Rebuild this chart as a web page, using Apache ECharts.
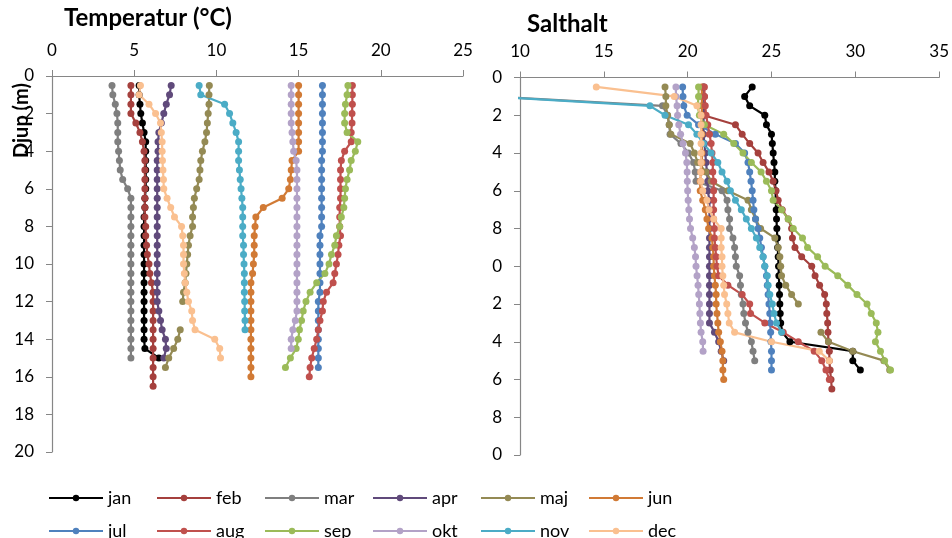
<!DOCTYPE html>
<html>
<head>
<meta charset="utf-8">
<script src="https://cdn.jsdelivr.net/npm/echarts@6/dist/echarts.min.js"></script>
<style>
  html, body { margin: 0; padding: 0; background: #fff; }
  #main { width: 952px; height: 538px; }
</style>
</head>
<body>
<div id="main"></div>
<script>
    // djup i meter, varje 0.5 m
    var depths = [0.5,1,1.5,2,2.5,3,3.5,4,4.5,5,5.5,6,6.5,7,7.5,8,8.5,9,9.5,10,10.5,11,11.5,12,12.5,13,13.5,14,14.5,15,15.5,16,16.5];
    var months = ['jan','feb','mar','apr','maj','jun','jul','aug','sep','okt','nov','dec'];
    var colors = ['#000000','#A5403D','#7F7F7F','#604A7B','#948A54','#D17A35','#4F81BD','#C0504D','#9BBB59','#B3A2C7','#4BACC6','#FAC090'];
    var tempTicks = [0,5,10,15,20,25];
    var saltTicks = [10,15,20,25,30,35];

    // temperatur (°C), forsta vardet = 0.5 m
    var tJan = [5.3,5.3,5.35,5.4,5.5,5.6,5.7,5.7,5.7,5.7,5.7,5.7,5.65,5.65,5.6,5.6,5.6,5.6,5.6,5.6,5.6,5.6,5.6,5.6,5.6,5.6,5.6,5.6,5.65,6.5];
    var tFeb = [4.8,4.8,4.8,4.8,5.1,5.35,5.5,5.6,5.65,5.65,5.65,5.65,5.65,5.65,5.65,5.7,5.7,5.75,5.8,5.9,5.95,6.05,6.15,6.15,6.15,6.15,6.15,6.15,6.15,6.15,6.15,6.15,6.15];
    var tMar = [3.65,3.7,3.85,3.95,4.0,4.0,4.0,4.05,4.1,4.15,4.3,4.6,4.8,4.8,4.8,4.8,4.8,4.8,4.8,4.8,4.8,4.8,4.8,4.8,4.8,4.8,4.8,4.8,4.8,4.8];
    var tApr = [7.25,7.15,6.95,6.8,6.65,6.5,6.45,6.45,6.4,6.4,6.4,6.4,6.4,6.4,6.4,6.4,6.4,6.4,6.4,6.4,6.4,6.4,6.4,6.4,6.5,6.6,6.7,6.9,6.95,6.8];
    var tMaj = [9.57,9.55,9.55,9.5,9.45,9.4,9.3,9.15,9.05,9.0,8.95,8.8,8.66,8.6,8.55,8.55,8.4,8.3,8.25,8.2,8.15,8.1,8.0,7.95,null,null,7.8,7.65,7.4,7.1,6.9];
    var tJun = [15.0,15.0,15.0,15.0,15.0,15.0,15.0,15.0,14.6,14.55,14.5,14.4,14.0,12.85,12.4,12.35,12.3,12.3,12.3,12.25,12.2,12.1,12.1,12.1,12.1,12.1,12.1,12.1,12.1,12.1,12.1,12.1];
    var tJul = [16.45,16.45,16.45,16.45,16.45,16.45,16.45,16.45,16.4,16.4,16.4,16.4,16.4,16.4,16.4,16.4,16.3,16.3,16.3,16.3,16.3,16.3,16.3,16.2,16.2,16.2,16.2,16.2,16.2,16.2,16.2];
    var tAug = [18.27,18.27,18.27,18.25,18.25,18.2,18.2,17.8,17.6,17.55,17.55,17.55,17.55,17.5,17.5,17.5,17.55,17.45,17.4,17.3,17.2,17.1,16.7,16.5,16.45,16.3,16.2,16.1,15.95,15.8,15.7,15.65];
    var tSep = [18.0,17.95,17.85,17.8,17.8,17.95,18.6,18.45,18.2,18.1,17.95,17.85,17.8,17.75,17.6,17.5,17.3,17.2,17.0,16.85,16.6,16.1,15.7,15.45,15.28,15.18,15.05,14.98,14.85,14.5,14.2];
    var tOkt = [14.55,14.55,14.55,14.55,14.55,14.6,14.65,14.7,14.85,14.9,14.9,14.9,14.9,14.9,14.9,14.9,14.9,14.9,14.9,14.9,14.9,14.9,14.9,14.9,14.9,14.8,14.65,14.55,14.55];
    var tNov = [8.95,9.05,10.5,10.8,11.0,11.2,11.35,11.35,11.35,11.4,11.45,11.5,11.55,11.6,11.6,11.6,11.6,11.65,11.65,11.68,11.7,11.7,11.7,11.72,11.72,11.74,11.74];
    var tDec = [5.38,5.3,5.9,6.3,6.6,6.65,6.7,6.7,6.72,6.75,6.78,6.8,7.0,7.22,7.45,7.88,7.95,8.0,8.0,8.0,8.05,8.1,8.2,8.3,8.5,8.55,8.7,9.9,10.2,10.25];

    // salthalt, forsta vardet = 0.5 m
    var sJan = [23.85,23.4,23.7,24.6,24.7,25.0,25.05,25.1,25.15,25.2,25.2,25.25,25.25,25.28,25.3,25.32,25.35,25.37,25.4,25.42,25.44,25.46,25.48,25.5,25.52,25.55,25.65,26.1,29.85,29.85,30.3];
    var sFeb = [20.95,21.0,21.0,20.95,22.85,23.25,23.7,24.2,24.5,24.85,25.1,25.27,25.4,25.64,26.0,26.2,26.25,26.4,26.8,27.4,27.6,27.87,28.17,28.27,28.3,28.35,28.37,28.4,28.45,28.45,28.5,28.55,28.6];
    var sMar = [8.0,8.2,18.5,18.8,18.9,18.95,19.6,20.05,20.35,20.45,20.5,22.05,22.35,22.4,22.5,22.5,22.7,22.8,22.85,22.9,23.1,23.15,23.2,23.3,23.35,23.45,23.6,23.8,23.9,24.0];
    var sApr = [20.95,20.95,20.95,20.95,20.95,20.95,21.0,21.05,21.1,21.15,21.2,21.2,21.3,21.3,21.3,21.3,21.3,21.3,21.3,21.3,21.3,21.3,21.3,21.3,21.3,21.3,21.6,21.85,22.0,22.15];
    var sMaj = [18.65,18.7,18.7,18.8,18.9,19.0,20.15,20.4,20.6,21.1,21.4,22.4,23.6,23.8,24.05,24.35,25.2,25.4,25.5,25.55,25.6,25.85,26.2,26.6,null,null,27.95,28.4,29.85,31.7,32.05];
    var sJun = [20.85,20.85,20.85,20.85,20.85,20.85,20.85,20.85,20.85,20.8,20.75,20.75,20.9,21.05,21.15,21.25,21.45,21.5,21.55,21.55,21.6,21.65,21.7,21.7,21.75,21.8,21.85,21.95,22.05,22.1,22.1,22.15];
    var sJul = [19.7,19.72,19.77,19.97,20.65,21.65,22.85,23.4,23.6,23.7,23.78,23.85,23.9,23.95,24.05,24.2,24.3,24.4,24.5,24.6,24.7,24.75,24.8,24.85,24.9,24.92,24.95,24.97,25.0,25.0,25.0];
    var sAug = [21.0,21.0,21.05,21.1,21.2,21.3,21.4,21.45,21.5,21.5,21.55,21.55,21.55,21.55,21.55,21.6,21.6,21.65,21.7,21.75,21.85,22.4,23.25,23.7,23.75,24.6,25.7,26.6,27.55,28.0,28.25,28.45];
    var sSep = [20.65,20.65,20.6,20.7,21.0,22.15,22.75,23.3,23.8,24.38,24.7,25.0,25.1,25.6,26.0,26.3,26.85,27.15,27.75,28.2,28.95,29.55,30.1,30.7,30.95,31.25,31.35,31.2,31.5,31.75,32.1];
    var sOkt = [19.3,19.3,19.37,19.4,19.47,19.58,19.72,19.87,19.95,19.97,19.98,20.0,20.03,20.07,20.11,20.17,20.3,20.4,20.47,20.5,20.56,20.62,20.66,20.7,20.73,20.76,20.8,20.9,20.92];
    var sNov = [8.0,8.2,17.75,18.65,20.05,20.55,20.95,21.4,21.8,22.05,22.35,22.55,22.85,23.2,23.5,23.8,24.1,24.3,24.5,24.6,24.75,24.8,24.9,25.05,25.15,25.3,25.6];
    var sDec = [14.55,19.2,20.55,20.8,20.8,20.8,20.8,20.8,20.8,20.78,20.78,20.9,21.15,21.28,21.55,22.0,22.0,22.0,22.05,22.05,22.1,22.15,22.2,22.33,22.4,22.48,22.8,25.0,27.85,28.45];

    var tempData = [tJan,tFeb,tMar,tApr,tMaj,tJun,tJul,tAug,tSep,tOkt,tNov,tDec];
    var saltData = [sJan,sFeb,sMar,sApr,sMaj,sJun,sJul,sAug,sSep,sOkt,sNov,sDec];

    var FONT = 'Lato';

    // [varde, djup] par
    function pairs(vals) {
        return vals.map(function (v, i) {
            return [v == null ? null : v, depths[i]];
        });
    }

    var series = [];
    for (var g = 0; g < 2; g++) {
        var src = g === 0 ? tempData : saltData;
        for (var m = 0; m < months.length; m++) {
            series.push({
                name: months[m],
                type: 'line',
                xAxisIndex: g,
                yAxisIndex: g,
                data: pairs(src[m]),
                symbol: 'circle',
                symbolSize: 7,
                clip: true,
                connectNulls: false,
                lineStyle: { width: 2.2, color: colors[m] },
                itemStyle: { color: colors[m] }
            });
        }
    }

    var axisGray = '#868686';

    function xAx(grid, ticks) {
        return {
            type: 'value',
            gridIndex: grid,
            position: 'top',
            min: ticks[0],
            max: ticks[ticks.length - 1],
            interval: 5,
            axisLine: { show: true, lineStyle: { color: axisGray, width: 1.2 } },
            axisTick: { show: true, length: 6, lineStyle: { color: axisGray } },
            splitLine: { show: false },
            axisLabel: { color: '#000', fontFamily: FONT, fontSize: 17, margin: 17 }
        };
    }

    function yAx(grid, fmt) {
        return {
            type: 'value',
            gridIndex: grid,
            inverse: true,
            min: 0,
            max: 20,
            interval: 2,
            axisLine: { show: true, lineStyle: { color: axisGray, width: 1.2 } },
            axisTick: { show: true, length: 6, lineStyle: { color: axisGray } },
            splitLine: { show: false },
            axisLabel: { color: '#000', fontFamily: FONT, fontSize: 17, margin: 18, formatter: fmt }
        };
    }

    // en legend per manad sa att avstanden blir jamna (108 px)
    var legends = months.map(function (name, k) {
        return {
            left: 43 + 108 * (k % 6),
            top: k < 6 ? 484 : 517,
            itemWidth: 54,
            itemHeight: 8,
            itemGap: 0,
            data: [name],
            textStyle: { fontFamily: FONT, fontSize: 18, color: '#000' }
        };
    });

    var option = {
        animation: false,
        backgroundColor: '#fff',
        color: colors,
        grid: [
            { left: 52, top: 76, width: 411, height: 376 },
            { left: 520, top: 77.5, width: 422, height: 377.5 }
        ],
        xAxis: [xAx(0, tempTicks), xAx(1, saltTicks)],
        yAxis: [
            yAx(0, function (v) { return String(v); }),
            // etiketterna ar avklippta i originalet: 10 -> "0", 12 -> "2" osv
            yAx(1, function (v) { return String(v % 10); })
        ],
        legend: legends,
        graphic: [
            {
                type: 'text', left: 64, top: 6,
                style: { text: 'Temperatur (°C)', font: 'bold 24px ' + FONT, fill: '#000' }
            },
            {
                type: 'text', left: 527, top: 12,
                style: { text: 'Salthalt', font: 'bold 24px ' + FONT, fill: '#000' }
            },
            {
                type: 'text', x: 12, y: 158, rotation: Math.PI / 2,
                style: { text: 'Djup (m)', font: 'bold 20px ' + FONT, fill: '#000' }
            }
        ],
        series: series
    };

    var myChart = echarts.init(document.getElementById('main'));
    myChart.setOption(option);
</script>
</body>
</html>
